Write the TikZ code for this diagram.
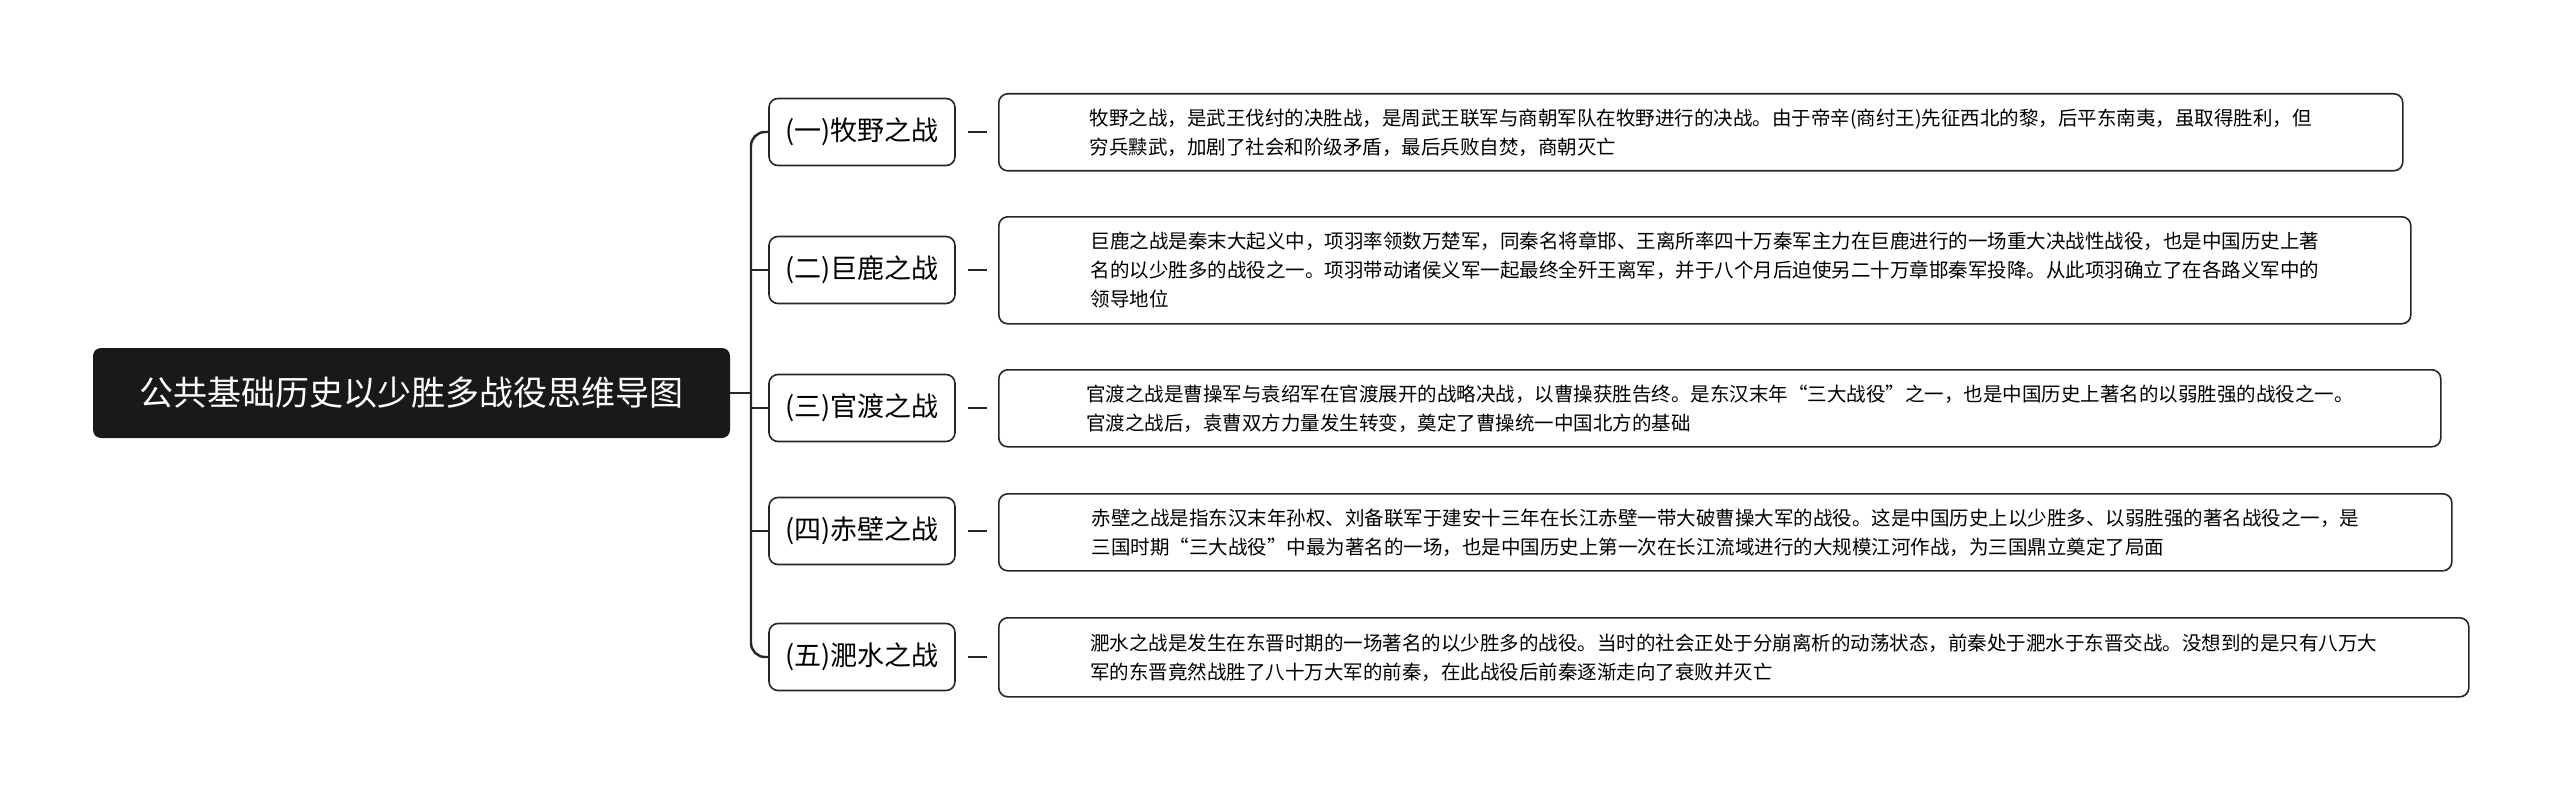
\documentclass[tikz,border=0pt]{standalone}
\usepackage{fontspec}
\setmainfont{Noto Sans CJK SC}
\begin{document}
\begin{tikzpicture}[x=1pt,y=-1pt,
  root/.style={fill=black!90,text=white,rounded corners=8pt,minimum width=637pt,minimum height=90pt,font=\fontsize{34}{40}\selectfont},
  branch/.style={draw=black!85,line width=1.6pt,rounded corners=9pt,minimum width=186pt,minimum height=67pt,font=\fontsize{27}{32}\selectfont},
  desc/.style={draw=black!85,line width=1.6pt,rounded corners=9pt,anchor=north west,align=left,inner xsep=9pt,inner ysep=0pt,font=\fontsize{19.5}{29}\selectfont},
  link/.style={line width=2.4pt,draw=black!85}]
\useasboundingbox (0,0) rectangle (2560,789);
\node[root] (r) at (411.5,393) {公共基础历史以少胜多战役思维导图};
\node[branch] (b1) at (862,132) {(一)牧野之战};
\node[branch] (b2) at (862,270) {(二)巨鹿之战};
\node[branch] (b3) at (862,408) {(三)官渡之战};
\node[branch] (b4) at (862,531) {(四)赤壁之战};
\node[branch] (b5) at (862,657) {(五)淝水之战};
\node[desc,minimum width=1404pt,minimum height=77pt] (d1) at (998,93) {牧野之战，是武王伐纣的决胜战，是周武王联军与商朝军队在牧野进行的决战。由于帝辛(商纣王)先征西北的黎，后平东南夷，虽取得胜利，但\\穷兵黩武，加剧了社会和阶级矛盾，最后兵败自焚，商朝灭亡};
\node[desc,minimum width=1412pt,minimum height=107pt] (d2) at (998,216) {巨鹿之战是秦末大起义中，项羽率领数万楚军，同秦名将章邯、王离所率四十万秦军主力在巨鹿进行的一场重大决战性战役，也是中国历史上著\\名的以少胜多的战役之一。项羽带动诸侯义军一起最终全歼王离军，并于八个月后迫使另二十万章邯秦军投降。从此项羽确立了在各路义军中的\\领导地位};
\node[desc,minimum width=1442pt,minimum height=77pt] (d3) at (998,369) {官渡之战是曹操军与袁绍军在官渡展开的战略决战，以曹操获胜告终。是东汉末年“三大战役”之一，也是中国历史上著名的以弱胜强的战役之一。\\官渡之战后，袁曹双方力量发生转变，奠定了曹操统一中国北方的基础};
\node[desc,minimum width=1453pt,minimum height=77pt] (d4) at (998,493) {赤壁之战是指东汉末年孙权、刘备联军于建安十三年在长江赤壁一带大破曹操大军的战役。这是中国历史上以少胜多、以弱胜强的著名战役之一，是\\三国时期“三大战役”中最为著名的一场，也是中国历史上第一次在长江流域进行的大规模江河作战，为三国鼎立奠定了局面};
\node[desc,minimum width=1470pt,minimum height=79pt] (d5) at (998,617) {淝水之战是发生在东晋时期的一场著名的以少胜多的战役。当时的社会正处于分崩离析的动荡状态，前秦处于淝水于东晋交战。没想到的是只有八万大\\军的东晋竟然战胜了八十万大军的前秦，在此战役后前秦逐渐走向了衰败并灭亡};
\coordinate (j) at (751,393);
\draw[link] (r.east) -- (j);
\draw[link,rounded corners=14pt] (b1.west) -- (751,132) -- (751,393);
\draw[link,rounded corners=14pt] (b5.west) -- (751,657) -- (751,393);
\draw[link] (751,270) -- (b2.west);
\draw[link] (751,408) -- (b3.west);
\draw[link] (751,531) -- (b4.west);
\foreach \i in {1,...,5}{\draw[link] ([xshift=12pt]b\i.east) -- ([xshift=-11pt]b\i.east -| d\i.west);}
\end{tikzpicture}
\end{document}
